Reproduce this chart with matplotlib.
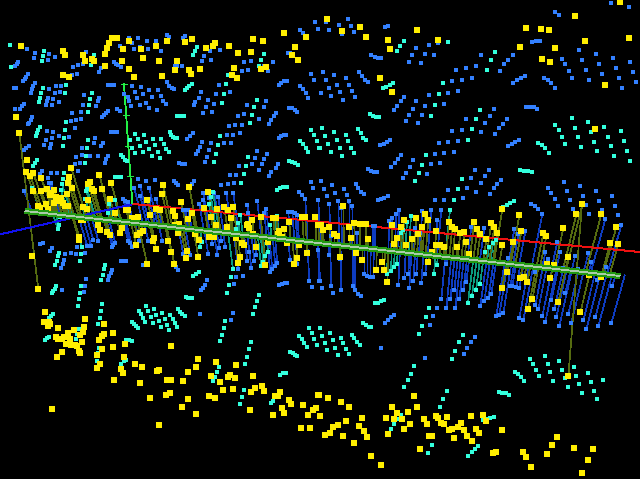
import numpy as np
import matplotlib
matplotlib.use("Agg")
import matplotlib.pyplot as plt
from matplotlib.collections import LineCollection

# all positions at 3x scale, one list per quadrant
blue_tl = [(946,67),(955,88),(901,91),(910,100),(388,113),(415,115),(442,124),(469,124),(502,106),(508,112),(556,109),(550,115),(397,130),(361,139),(421,142),(403,148),(445,146),(484,154),(82,148),(106,160),(148,163),(103,175),(166,172),(145,181),(259,157),(661,151),(631,154),(613,169),(607,184),(634,181),(733,187),(754,184),(820,187),(793,197),(805,214),(727,214),(745,211),(865,160),(871,160),(55,187),(52,193),(46,199),(235,196),(220,202),(250,193),(343,187),(349,193),(355,196),(364,202),(304,205),(298,217),(232,223),(217,226),(526,199),(532,199),(547,199),(85,223),(79,232),(76,238),(70,244),(106,250),(100,259),(97,268),(94,280),(43,265),(49,265),(148,268),(169,259),(184,259),(166,280),(181,277),(145,295),(160,298),(142,304),(139,316),(157,316),(178,307),(253,286),(298,295),(295,304),(289,319),(250,316),(325,256),(331,256),(343,256),(397,259),(424,262),(448,271),(475,271),(406,277),(373,283),(430,283),(388,304),(385,292),(412,295),(457,292),(484,289),(490,304),(439,310),(499,313),(394,319),(421,316),(448,325),(472,331),(502,247),(508,259),(517,265),(523,268),(604,277),(598,295),(625,301),(649,283),(691,277),(586,307),(583,316),(643,313),(619,322),(610,340),(637,337),(658,256),(838,256),(844,250),(853,244),(862,244),(934,223),(943,241),(901,259),(910,268),(919,280),(925,295),(799,304),(742,316),(793,322),(829,340),(823,349),(814,361),(808,373),(715,349),(733,343),(778,358),(727,376),(706,376),(688,379),(721,400),(700,406),(682,406),(868,325),(877,325),(886,331),(892,337),(46,328),(61,328),(67,319),(73,313),(97,352),(94,361),(88,370),(85,373),(352,328),(361,334),(325,334),(319,340),(313,346),(307,352),(217,340),(244,337),(229,361),(244,358),(214,364),(226,385),(208,412),(178,409),(157,415),(142,394),(160,397),(139,421),(133,436),(154,433),(151,445),(334,397),(340,397),(352,397),(580,400),(571,409),(562,418),(286,415),(310,430),(283,430),(304,439),(247,445),(607,427),(634,430),(673,430),(694,430),(601,442),(595,454),(589,463),(628,451),(622,472),(616,487),(772,454),(802,463),(766,475),(793,478),(757,493),(787,493),(718,499),(778,511),(835,493),(829,505),(814,517),(808,529),(691,526),(709,526),(859,406),(853,406),(844,409),(838,415),(934,547),(940,565),(898,577),(907,586),(916,598),(955,601),(88,439),(79,445),(73,451),(229,472),(247,466),(271,469),(295,469),(325,469),(319,478),(316,490),(226,493),(241,490),(235,514),(154,520),(172,520),(145,535),(127,514),(121,523),(148,550),(154,550),(547,493),(538,490),(556,493),(415,538),(439,544),(466,541),(421,559),(403,565),(448,565),(583,544),(577,553),(571,559),(523,544),(529,550),(535,556),(664,556),(685,553),(703,550),(73,574),(643,580),(679,580),(700,580),(610,580),(628,595),(370,598),(376,604),(385,607),(448,598),(469,598),(421,589),(742,616),(772,604),(799,628),(793,640),(745,640),(865,637),(877,637),(886,640),(892,646),(832,647),(610,600),(655,592),(598,613),(550,631),(556,631),(565,631)]
blue_tr = [(85,58),(19,67),(58,76),(94,79),(28,91),(103,97),(67,103),(205,79),(196,82),(706,37),(718,46),(874,10),(928,22),(289,145),(328,136),(355,130),(316,163),(343,166),(277,166),(268,187),(304,190),(154,166),(166,172),(175,175),(184,175),(637,127),(649,124),(661,124),(778,151),(727,178),(736,193),(748,214),(757,235),(787,181),(799,211),(808,241),(829,163),(838,193),(847,223),(880,175),(889,205),(898,235),(907,265),(931,187),(940,217),(949,247),(484,166),(469,199),(457,235),(580,166),(565,181),(553,193),(541,214),(439,205),(409,211),(427,241),(397,244),(415,274),(385,280),(328,286),(616,229),(604,235),(592,241),(580,250),(673,235),(685,241),(694,250),(706,265),(10,217),(43,226),(79,235),(19,241),(52,256),(88,256),(28,265),(97,274),(61,277),(2,280),(34,289),(106,292),(70,301),(118,217),(127,229),(136,241),(145,247),(253,292),(244,304),(232,319),(223,331),(289,304),(280,328),(268,346),(259,364),(316,319),(307,346),(295,370),(373,313),(523,328),(511,349),(496,370),(484,397),(439,358),(427,391),(397,394),(385,427),(358,430),(415,424),(562,358),(550,373),(538,385),(526,403),(598,421),(586,427),(577,433),(565,439),(619,322),(631,322),(643,322),(652,328),(211,421),(202,427),(193,433),(181,436),(244,466),(235,478),(226,490),(214,502),(280,481),(271,502),(259,520),(250,535),(346,463),(373,460),(403,457),(334,493),(361,490),(322,523),(145,508),(154,514),(163,517),(172,517),(466,511),(508,511),(496,529),(544,541),(454,535),(484,550),(532,553),(442,565),(385,571),(469,577),(523,565),(511,583),(430,595),(346,601),(373,601),(205,589),(193,595),(184,598),(175,601),(4,544),(37,556),(13,568),(73,568),(109,553),(115,565),(124,577),(133,583),(46,580),(82,586),(22,589),(685,565),(694,580),(706,598),(715,619),(733,547),(742,574),(751,601),(760,628),(781,559),(790,589),(799,616),(808,643),(829,574),(838,604),(847,631),(856,658),(877,589),(886,619),(895,646),(904,676),(634,613),(646,619),(655,628),(667,643),(28,613),(55,604),(88,604),(97,619),(64,625),(238,631),(229,643),(334,631),(364,631),(307,634),(217,655),(208,664),(352,661),(454,682),(493,685),(583,688),(616,694),(595,703),(160,679),(166,679),(34,709),(286,685),(301,700),(112,700)]
blue_bl = [(157,25),(151,34),(196,43),(214,40),(229,43),(256,40),(193,61),(190,73),(184,85),(337,91),(334,100),(328,109),(325,121),(259,118),(256,139),(253,157),(187,151),(622,121),(616,136),(610,145),(604,151),(601,223),(700,220),(694,241),(730,109),(709,112),(703,133),(838,136),(847,133),(856,130),(862,130),(928,124),(937,142),(364,64),(370,64),(379,64),(430,76),(529,82),(535,91),(232,22),(262,19),(274,19),(130,10),(121,13),(340,16),(346,10),(337,22),(295,2),(280,0),(385,4),(391,10),(397,22),(418,2),(445,2),(487,4),(550,43),(571,46),(625,43),(652,46),(637,13),(658,25),(676,22),(748,37),(769,46),(715,88),(742,64),(763,64),(754,85),(811,97),(817,88),(826,79),(832,70),(870,61),(892,73),(955,31),(958,124),(664,2)]
blue_br = [(0,124),(7,145),(34,139),(40,160),(64,151),(100,139),(106,151),(115,163),(124,169),(133,103),(142,109),(151,112),(160,112),(235,136),(253,115),(265,103),(268,145),(280,124),(304,130),(289,103),(316,103),(340,229),(331,256),(352,205),(379,205),(406,205),(196,250),(205,241),(214,232),(223,224),(184,325),(316,355),(466,292),(454,307),(442,325),(433,343),(364,178),(391,178),(418,178),(403,151),(430,151),(439,127),(379,73),(493,184),(505,175),(514,163),(481,199),(529,229),(538,226),(550,220),(598,235),(610,241),(565,55),(571,139),(577,139),(589,142),(598,145),(646,196),(655,208),(667,229),(676,247),(694,181),(703,208),(709,232),(718,259),(736,160),(745,223),(754,250),(790,241),(799,268),(826,232),(835,259),(874,250),(877,139),(832,121),(805,40),(814,67),(820,100),(858,82),(646,97),(685,58),(676,37),(712,7),(720,37),(765,49),(730,85),(775,88),(28,46),(61,58)]

cyan_tl = [(30,135),(132,154),(129,169),(126,184),(33,200),(282,166),(273,196),(591,142),(586,154),(580,165),(792,162),(783,181),(778,198),(685,226),(678,253),(672,283),(666,310),(771,300),(762,322),(756,345),(750,369),(576,253),(568,259),(562,265),(555,270),(129,265),(123,280),(120,295),(117,306),(198,256),(195,280),(276,280),(270,298),(267,315),(264,337),(532,348),(540,348),(552,348),(120,380),(115,390),(111,400),(108,408),(198,367),(195,391),(192,414),(189,438),(264,421),(261,445),(258,468),(255,490),(405,403),(432,406),(414,418),(438,426),(459,418),(483,418),(465,436),(492,433),(390,421),(396,445),(420,438),(447,448),(474,456),(498,448),(507,456),(405,460),(429,456),(456,468),(480,474),(510,396),(514,404),(520,410),(526,414),(532,414),(660,408),(654,436),(648,462),(642,486),(745,472),(738,498),(732,522),(723,549),(933,390),(942,406),(951,423),(958,444),(900,423),(909,432),(918,444),(924,456),(868,483),(877,486),(886,490),(894,495),(364,465),(370,472),(376,480),(382,484),(346,531),(352,531),(364,531),(100,497),(105,488),(111,480),(832,570),(841,565),(850,562),(862,562),(192,520),(189,537),(186,552),(183,570),(180,592),(259,574),(256,598),(345,600),(327,612),(325,640),(322,660),(96,565),(627,612),(633,592),(639,577),(628,580),(721,645),(715,670),(709,688),(831,647),(826,655),(811,674),(177,675),(174,688),(180,652),(261,568),(247,622)]
cyan_tr = [(6,384),(15,408),(42,396),(51,420),(78,405),(84,423),(24,432),(60,444),(93,444),(0,444),(33,456),(66,468),(102,459),(114,387),(123,399),(129,414),(138,420),(150,342),(159,348),(168,351),(177,351),(252,123),(240,138),(231,153),(384,126),(369,249),(357,282),(345,315),(333,348),(219,249),(210,255),(198,261),(189,264),(525,156),(513,180),(501,210),(480,330),(468,357),(456,387),(444,420),(318,465),(306,495),(297,519),(285,543),(426,537),(414,567),(402,600),(390,630),(582,603),(570,609),(561,615),(549,621),(600,510),(612,513),(624,513),(636,516),(654,429),(666,435),(675,444),(687,459),(705,375),(717,390),(726,411),(735,432),(756,354),(765,384),(774,411),(783,441),(804,366),(813,396),(822,426),(831,453),(852,381),(864,411),(873,438),(882,468),(903,393),(912,423),(921,453),(930,483),(273,648),(261,665),(243,700),(249,690)]
cyan_bl = [(177,40),(174,49),(171,62),(165,75),(315,75),(312,87),(309,105),(303,120),(246,21),(243,42),(240,63),(243,138),(240,159),(237,177),(234,198),(168,138),(165,147),(159,153),(156,159),(597,97),(588,103),(579,108),(693,111),(687,135),(681,159),(777,165),(771,183),(765,201),(759,222),(306,192),(303,213),(300,234),(294,252),(438,198),(444,213),(417,213),(423,222),(429,234),(435,246),(462,207),(468,225),(453,231),(486,219),(510,225),(477,243),(459,249),(495,237),(501,255),(483,261),(507,270),(519,237),(525,249),(531,261),(396,246),(402,252),(408,258),(414,264),(534,207),(540,216),(546,222),(555,228),(558,171),(564,174),(576,174),(159,222),(153,228),(147,235),(237,268),(231,283),(228,298),(225,313),(147,291),(141,295),(135,299),(297,324),(294,340),(291,364),(288,381),(378,300),(387,300),(396,303),(378,360),(372,364),(363,372),(675,243),(672,264),(666,285),(660,303),(753,306),(747,327),(741,351),(735,372),(657,381),(651,396),(645,411),(639,423),(732,450),(726,471),(720,492),(859,398),(850,400),(841,404),(871,337),(880,340),(886,345),(892,348),(927,264),(936,279),(942,297),(951,315),(897,288),(906,297),(912,309),(921,321),(960,264),(819,483),(813,489),(699,87),(804,36),(795,48),(790,66),(783,78),(606,5),(600,20)]
cyan_br = [(192,180),(183,184),(174,188),(165,188),(327,203),(318,231),(306,258),(297,282),(429,285),(417,306),(405,333),(396,357),(282,378),(273,402),(264,420),(252,441),(129,249),(138,255),(147,261),(153,261),(30,279),(6,288),(39,300),(63,294),(15,309),(69,309),(45,324),(78,327),(21,330),(87,342),(54,345),(0,264),(96,285),(102,294),(111,306),(120,315),(381,453),(369,477),(360,501),(348,525),(243,525),(231,538),(222,551),(213,567),(522,531),(510,534),(498,537),(490,540),(474,618),(465,627),(456,636),(444,648),(336,615),(324,639),(537,456),(546,459),(558,459),(567,465),(585,396),(594,402),(603,411),(612,423),(630,357),(639,372),(648,390),(657,408),(675,348),(684,372),(690,396),(699,423),(717,363),(726,390),(735,414),(744,441),(762,381),(768,408),(777,432),(786,459),(804,399),(813,426),(822,453),(831,477),(849,420),(231,72),(222,81),(213,93),(201,102),(351,75),(342,102),(480,132),(468,150),(456,168),(444,189),(495,36),(507,21),(519,9),(528,0)]

yellow_tl = [(64,139),(190,154),(196,166),(250,166),(256,184),(277,178),(283,184),(190,226),(208,232),(316,163),(322,145),(328,130),(337,115),(352,115),(316,199),(367,184),(370,148),(388,124),(424,148),(430,175),(469,139),(502,124),(478,184),(532,184),(556,127),(577,118),(619,145),(640,139),(646,130),(688,139),(715,160),(754,157),(760,118),(790,124),(853,100),(886,142),(877,166),(895,181),(919,112),(799,202),(784,208),(703,205),(697,226),(712,235),(601,208),(568,211),(574,223),(526,211),(487,229),(388,208),(403,232),(49,352),(58,400),(82,481),(79,517),(91,529),(100,520),(124,535),(214,505),(208,532),(205,550),(217,565),(202,583),(298,526),(271,547),(265,553),(334,550),(307,568),(277,568),(283,574),(331,598),(265,601),(100,574),(124,574),(142,568),(163,571),(151,586),(154,580),(169,592),(184,595),(181,604),(190,610),(139,613),(163,610),(115,619),(145,628),(121,625),(196,619),(205,619),(250,622),(262,628),(490,556),(487,583),(442,601),(544,607),(568,562),(625,577),(613,625),(652,628),(673,622),(685,631),(700,622),(577,640),(526,649),(520,634),(469,628),(481,631),(451,646),(379,631),(385,631),(346,640),(397,655),(415,652),(634,652),(694,655),(649,676),(757,661),(745,673),(782,652),(748,685),(682,682),(742,676),(565,658),(538,673),(526,676),(397,670),(430,694),(421,700),(412,706),(367,685),(361,700),(322,697),(331,706),(301,691),(295,676),(250,661),(244,661),(238,712),(535,700),(463,715),(586,703),(628,712),(643,712),(709,715),(820,655),(829,655),(868,667),(907,652),(916,652),(946,652),(955,676),(853,688),(838,694),(835,703),(847,712),(760,703)]
yellow_tr = [(22,58),(67,94),(121,82),(139,112),(205,121),(211,148),(292,91),(355,121),(181,235),(217,277),(619,85),(664,88),(688,91),(766,49),(796,124),(901,7),(928,115),(601,142),(706,145),(667,178),(691,187),(856,256),(826,388),(547,628),(598,646),(787,613),(769,643),(844,643),(889,682),(730,685),(670,700),(679,709),(70,619),(103,670),(121,673),(139,673),(88,682),(28,682),(10,691),(4,676),(43,703),(52,709),(94,715),(145,718),(217,676),(253,661),(289,655),(316,643),(325,661),(244,682),(307,682),(295,703),(349,694),(388,667),(397,682),(406,688),(232,715),(277,718),(463,667),(472,688),(514,670),(523,682),(532,700),(433,697),(421,700),(481,703),(604,694),(499,718)]
yellow_bl = [(97,49),(115,148),(136,217),(133,247),(148,247),(151,253),(145,259),(175,265),(256,238),(253,262),(250,277),(223,271),(205,280),(241,286),(193,292),(169,292),(175,298),(187,298),(211,298),(199,313),(214,316),(226,316),(232,319),(247,307),(238,334),(241,340),(187,337),(172,352),(313,253),(313,283),(307,289),(298,301),(340,280),(340,322),(307,328),(376,313),(292,346),(301,373),(292,385),(373,352),(364,388),(370,400),(343,421),(406,373),(427,382),(421,430),(451,475),(478,556),(157,508),(469,28),(409,16),(442,73),(514,37),(523,73),(562,34),(559,55),(595,52),(514,319),(595,358),(589,382),(565,397),(550,424),(502,421),(514,421),(472,394),(478,391),(511,460),(499,466),(565,478),(547,502),(589,523),(628,469),(646,475),(670,451),(700,448),(661,427),(634,409),(649,367),(709,376),(685,412),(691,406),(706,415),(760,409),(754,457),(766,445),(787,439),(793,454),(751,511),(820,526),(826,469),(835,469),(841,457),(868,481),(874,493),(847,505),(853,520),(910,496),(925,526),(940,511),(949,505),(954,466),(960,529),(904,565),(931,565),(721,52),(715,70),(796,76),(883,73),(892,55),(922,40),(733,16),(769,22),(727,10),(805,7),(898,16),(862,10),(460,4),(505,4),(598,0),(238,0)]
yellow_br = [(61,52),(109,40),(127,61),(187,67),(169,91),(193,91),(202,127),(223,13),(259,16),(325,67),(337,37),(349,16),(361,16),(373,22),(412,22),(439,7),(448,43),(547,16),(580,7),(562,97),(601,115),(613,112),(622,127),(691,115),(547,145),(637,178),(625,208),(715,187),(781,217),(745,52),(682,73),(703,76),(808,106),(844,112),(745,409),(871,10),(895,13),(25,475),(64,487),(88,502),(-3,466),(0,529),(79,544),(127,535),(55,556),(40,562),(118,559),(133,574),(31,580),(16,586),(70,589),(142,592),(103,610),(154,649),(184,676),(283,469),(217,502),(292,502),(265,517),(232,520),(199,535),(223,538),(247,538),(271,553),(253,568),(205,583),(313,538),(322,553),(349,529),(355,535),(382,532),(364,550),(373,553),(424,550),(415,562),(397,568),(388,571),(433,571),(403,595),(442,589),(457,604),(469,568),(478,580),(454,529),(490,526),(499,544),(547,571),(328,589),(337,589),(301,628),(529,637),(520,640),(610,637),(619,652),(634,682),(682,643),(697,616),(712,592),(763,625),(820,628),(805,661),(787,700)]

# axes lines, same 3x scale
x_axis_x = [400, 1920]
x_axis_y = [612, 756]
z_axis_x = [0, 400]
z_axis_y = [703, 612]
y_axis_x = [372, 397]
y_axis_y = [253, 610]
y_tick_x = [372, 378, 385, 391]
y_tick_y = [253, 345, 438, 527]
bar_x = [75, 1860]
bar_y = [633, 828]
long_stems = [((58, 400), (115, 868)), ((1705, 1129), (1746, 613))]


def quad(points, dx, dy):
    a = np.array(points, dtype=float)
    a[:, 0] += dx
    a[:, 1] += dy
    return a


def join(tl, tr, bl, br):
    return np.vstack([quad(tl, 0, 0), quad(tr, 960, 0), quad(bl, 0, 720), quad(br, 960, 720)])


def baseline(x):
    return bar_y[0] + (x - bar_x[0]) * (bar_y[1] - bar_y[0]) / (bar_x[1] - bar_x[0])


def stems(pts, up_a, up_b, down_a, down_b):
    # points near the bar get a stem to it, leaning with the perspective
    segs = []
    for x, y in pts:
        yb = baseline(x)
        d = yb - y
        lim = up_a + up_b * x if d > 0 else down_a + down_b * x
        if abs(d) < lim:
            xb = x - (x - 1071) * 0.000367 * d
            segs.append([(x, y), (xb, yb)])
    return segs


blue = join(blue_tl, blue_tr, blue_bl, blue_br)
cyan = join(cyan_tl, cyan_tr, cyan_bl, cyan_br)
yellow = join(yellow_tl, yellow_tr, yellow_bl, yellow_br)

fig = plt.figure(figsize=(6.40, 4.79), dpi=100, facecolor="black")
ax = fig.add_axes([0, 0, 1, 1])
ax.set_xlim(0, 1920)
ax.set_ylim(1437, 0)
ax.axis("off")

ax.add_collection(LineCollection(stems(blue, 96, 0.04, 78, 0.058), colors="#0e3cc0", linewidths=0.5, antialiased=False, zorder=1))
ax.add_collection(LineCollection(stems(cyan, 96, 0.04, 78, 0.058), colors="#0a9a80", linewidths=0.5, antialiased=False, zorder=1))
ax.add_collection(LineCollection(stems(yellow, 144, 0.04, 126, 0.01) + long_stems, colors="#556b10", linewidths=0.5, antialiased=False, zorder=1.1))

ax.plot(z_axis_x, z_axis_y, color="#1111ee", lw=0.7, antialiased=False, zorder=2)
ax.plot(x_axis_x, x_axis_y, color="#ee1111", lw=0.7, antialiased=False, zorder=2)
ax.plot(y_axis_x, y_axis_y, color="#22ee44", lw=0.6, antialiased=False, zorder=2)
for tx, ty in zip(y_tick_x, y_tick_y):
    ax.plot([tx - 9, tx + 9], [ty, ty], color="#22ee44", lw=0.6, antialiased=False, zorder=2)

ax.scatter(blue[:, 0], blue[:, 1], s=6, marker="s", color="#3380ff", linewidths=0, antialiased=False, zorder=3)
ax.scatter(cyan[:, 0], cyan[:, 1], s=10, marker="s", color="#33ffdd", linewidths=0, antialiased=False, zorder=3.1)
ax.scatter(yellow[:, 0], yellow[:, 1], s=15, marker="s", color="#ffee00", linewidths=0, antialiased=False, zorder=3.2)

ax.plot(bar_x, bar_y, color="#229911", lw=3.6, solid_capstyle="butt", antialiased=False, zorder=4)
ax.plot(bar_x, bar_y, color="#aaccaa", lw=0.6, solid_capstyle="butt", antialiased=False, zorder=4.1)

fig.savefig("out.png", dpi=100, facecolor="black")
